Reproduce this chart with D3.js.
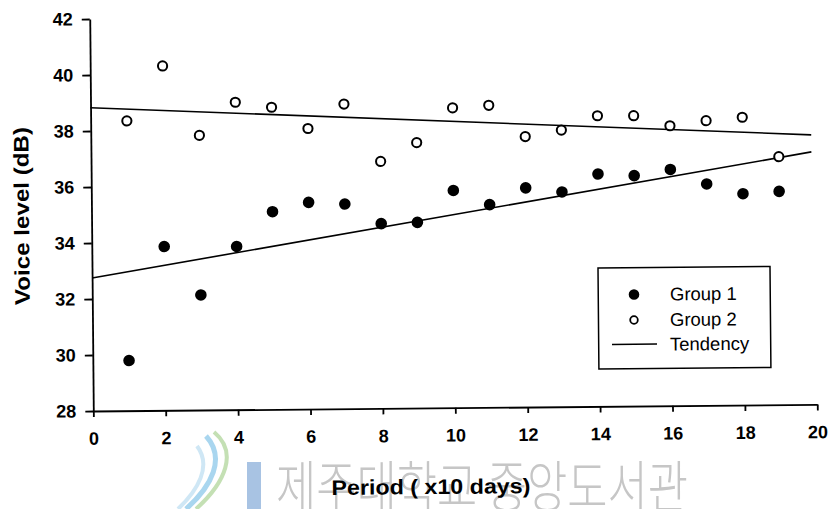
<!DOCTYPE html>
<html><head><meta charset="utf-8">
<script src="https://cdn.jsdelivr.net/npm/d3@7"></script>
<style>html,body{margin:0;padding:0;background:#fff;} svg{display:block;}</style>
</head><body>
<svg id="chart" width="832" height="509"></svg>
<script>
// ---- data ----
const periods = [1, 2, 3, 4, 5, 6, 7, 8, 9, 10, 11, 12, 13, 14, 15, 16, 17, 18, 19];
const group1 = [29.79, 33.85, 32.11, 33.83, 35.06, 35.38, 35.31, 34.60, 34.63, 35.76,
                35.24, 35.83, 35.67, 36.30, 36.23, 36.44, 35.91, 35.55, 35.62];
const group2 = [38.35, 40.30, 37.81, 38.98, 38.79, 38.02, 38.88, 36.82, 37.48, 38.71,
                38.79, 37.66, 37.88, 38.38, 38.37, 38.00, 38.17, 38.28, 36.86];
const trendX = [0, 19.9];
const trend1 = [32.75, 37.02];
const trend2 = [38.83, 37.63];
const xTicks = [0, 2, 4, 6, 8, 10, 12, 14, 16, 18, 20];
const yTicks = [28, 30, 32, 34, 36, 38, 40, 42];
const legendLabels = ["Group 1", "Group 2", "Tendency"];
const xTitle = "Period ( x10 days)";
const yTitle = "Voice level (dB)";
const watermark = "제주대학교 중앙도서관";

// ---- layout ----
const svg = d3.select("#chart");
const FONT = "'Liberation Sans', Arial, Helvetica, sans-serif";
const ox = 93.3, oy = 411;          // plot origin (pivot of the slight scan tilt)
const tilt = 0.52;                  // degrees, counter-clockwise
const a = tilt * Math.PI / 180, ca = Math.cos(a), sa = Math.sin(a);
// screen -> local (un-tilted) coordinates
function loc(sx, sy) {
  const dx = sx - ox, dy = sy - oy;
  return [ox + dx * ca - dy * sa, oy + dx * sa + dy * ca];
}

// watermark (not tilted, behind everything)
const wm = svg.append("g").attr("class", "watermark");
wm.append("path")
  .attr("d", "M214 432 C238 452 226 482 196 509")
  .attr("fill", "none").attr("stroke", "#c4e0b4").attr("stroke-width", 4);
wm.append("path")
  .attr("d", "M206 436 C226 458 212 486 186 509")
  .attr("fill", "none").attr("stroke", "#a9d6ef").attr("stroke-width", 5);
wm.append("path")
  .attr("d", "M197 446 C212 466 198 490 178 509")
  .attr("fill", "none").attr("stroke", "#cfe7f5").attr("stroke-width", 4);
wm.append("rect")
  .attr("x", 247).attr("y", 462).attr("width", 14).attr("height", 47)
  .attr("fill", "#a8c3e3");
wm.append("text")
  .attr("x", 276).attr("y", 507)
  .attr("font-family", "'Noto Sans CJK KR', 'Noto Sans CJK SC', sans-serif")
  .attr("font-weight", 300)
  .attr("font-size", 56)
  .attr("textLength", 412).attr("lengthAdjust", "spacingAndGlyphs")
  .attr("fill", "#c6c6c6")
  .text(watermark);

const g = svg.append("g").attr("transform", `rotate(${-tilt},${ox},${oy})`);

const x = d3.scaleLinear().domain([0, 20]).range([ox, ox + 724]);
const y = d3.scaleLinear().domain([28, 42]).range([oy, 19]);

// axes
const xAxis = g.append("g").attr("transform", `translate(0,${oy})`)
  .call(d3.axisBottom(x).tickValues(xTicks).tickFormat(d3.format("d"))
        .tickSize(6).tickSizeOuter(0).tickPadding(15));
const yAxis = g.append("g").attr("transform", `translate(${ox},0)`)
  .call(d3.axisLeft(y).tickValues(yTicks).tickFormat(d3.format("d"))
        .tickSize(8).tickSizeOuter(0).tickPadding(9));
[xAxis, yAxis].forEach(ax => {
  ax.select(".domain").attr("stroke", "#000").attr("stroke-width", 1.8);
  ax.selectAll(".tick line").attr("stroke", "#000").attr("stroke-width", 1.8);
  ax.selectAll(".tick text").attr("fill", "#000")
    .attr("font-family", FONT).attr("font-weight", "bold").attr("font-size", 18);
});

// tendency lines
const line = d3.line().x(d => x(d[0])).y(d => y(d[1]));
[trend1, trend2].forEach(t => {
  g.append("path")
    .datum(trendX.map((v, i) => [v, t[i]]))
    .attr("d", line)
    .attr("fill", "none").attr("stroke", "#000").attr("stroke-width", 1.6);
});

// points
g.append("g").selectAll("circle").data(periods.map((p, i) => [p, group2[i]])).join("circle")
  .attr("cx", d => x(d[0])).attr("cy", d => y(d[1])).attr("r", 4.6)
  .attr("fill", "#fff").attr("stroke", "#000").attr("stroke-width", 2);
g.append("g").selectAll("circle").data(periods.map((p, i) => [p, group1[i]])).join("circle")
  .attr("cx", d => x(d[0])).attr("cy", d => y(d[1])).attr("r", 5.8)
  .attr("fill", "#000");

// axis titles
{
  const [tx, ty] = loc(431, 494);
  g.append("text").attr("x", tx).attr("y", ty)
    .attr("text-anchor", "middle")
    .attr("font-family", FONT).attr("font-weight", "bold").attr("font-size", 21)
    .attr("textLength", 199).attr("lengthAdjust", "spacingAndGlyphs")
    .text(xTitle);
}
{
  const [tx, ty] = loc(29, 216);
  g.append("text")
    .attr("transform", `translate(${tx},${ty}) rotate(-90)`)
    .attr("text-anchor", "middle")
    .attr("font-family", FONT).attr("font-weight", "bold").attr("font-size", 21)
    .attr("textLength", 178).attr("lengthAdjust", "spacingAndGlyphs")
    .text(yTitle);
}

// legend
{
  const [bx, by] = loc(598, 268);
  g.append("rect").attr("x", bx).attr("y", by).attr("width", 172).attr("height", 101)
    .attr("fill", "#fff").attr("stroke", "#000").attr("stroke-width", 1.5);
  const [c1x, c1y] = loc(634, 294.5);
  g.append("circle").attr("cx", c1x).attr("cy", c1y).attr("r", 5.3).attr("fill", "#000");
  const [c2x, c2y] = loc(634, 320);
  g.append("circle").attr("cx", c2x).attr("cy", c2y).attr("r", 3.8)
    .attr("fill", "#fff").attr("stroke", "#000").attr("stroke-width", 1.8);
  const [l1x, l1y] = loc(612, 344.5);
  g.append("line").attr("x1", l1x).attr("y1", l1y).attr("x2", l1x + 45).attr("y2", l1y)
    .attr("stroke", "#000").attr("stroke-width", 1.5);
  const baselines = [300.5, 326, 350.5];
  legendLabels.forEach((lab, i) => {
    const [lx, ly] = loc(670, baselines[i]);
    g.append("text").attr("x", lx).attr("y", ly)
      .attr("font-family", FONT).attr("font-size", 18.5).attr("fill", "#000")
      .text(lab);
  });
}
</script>
</body></html>
